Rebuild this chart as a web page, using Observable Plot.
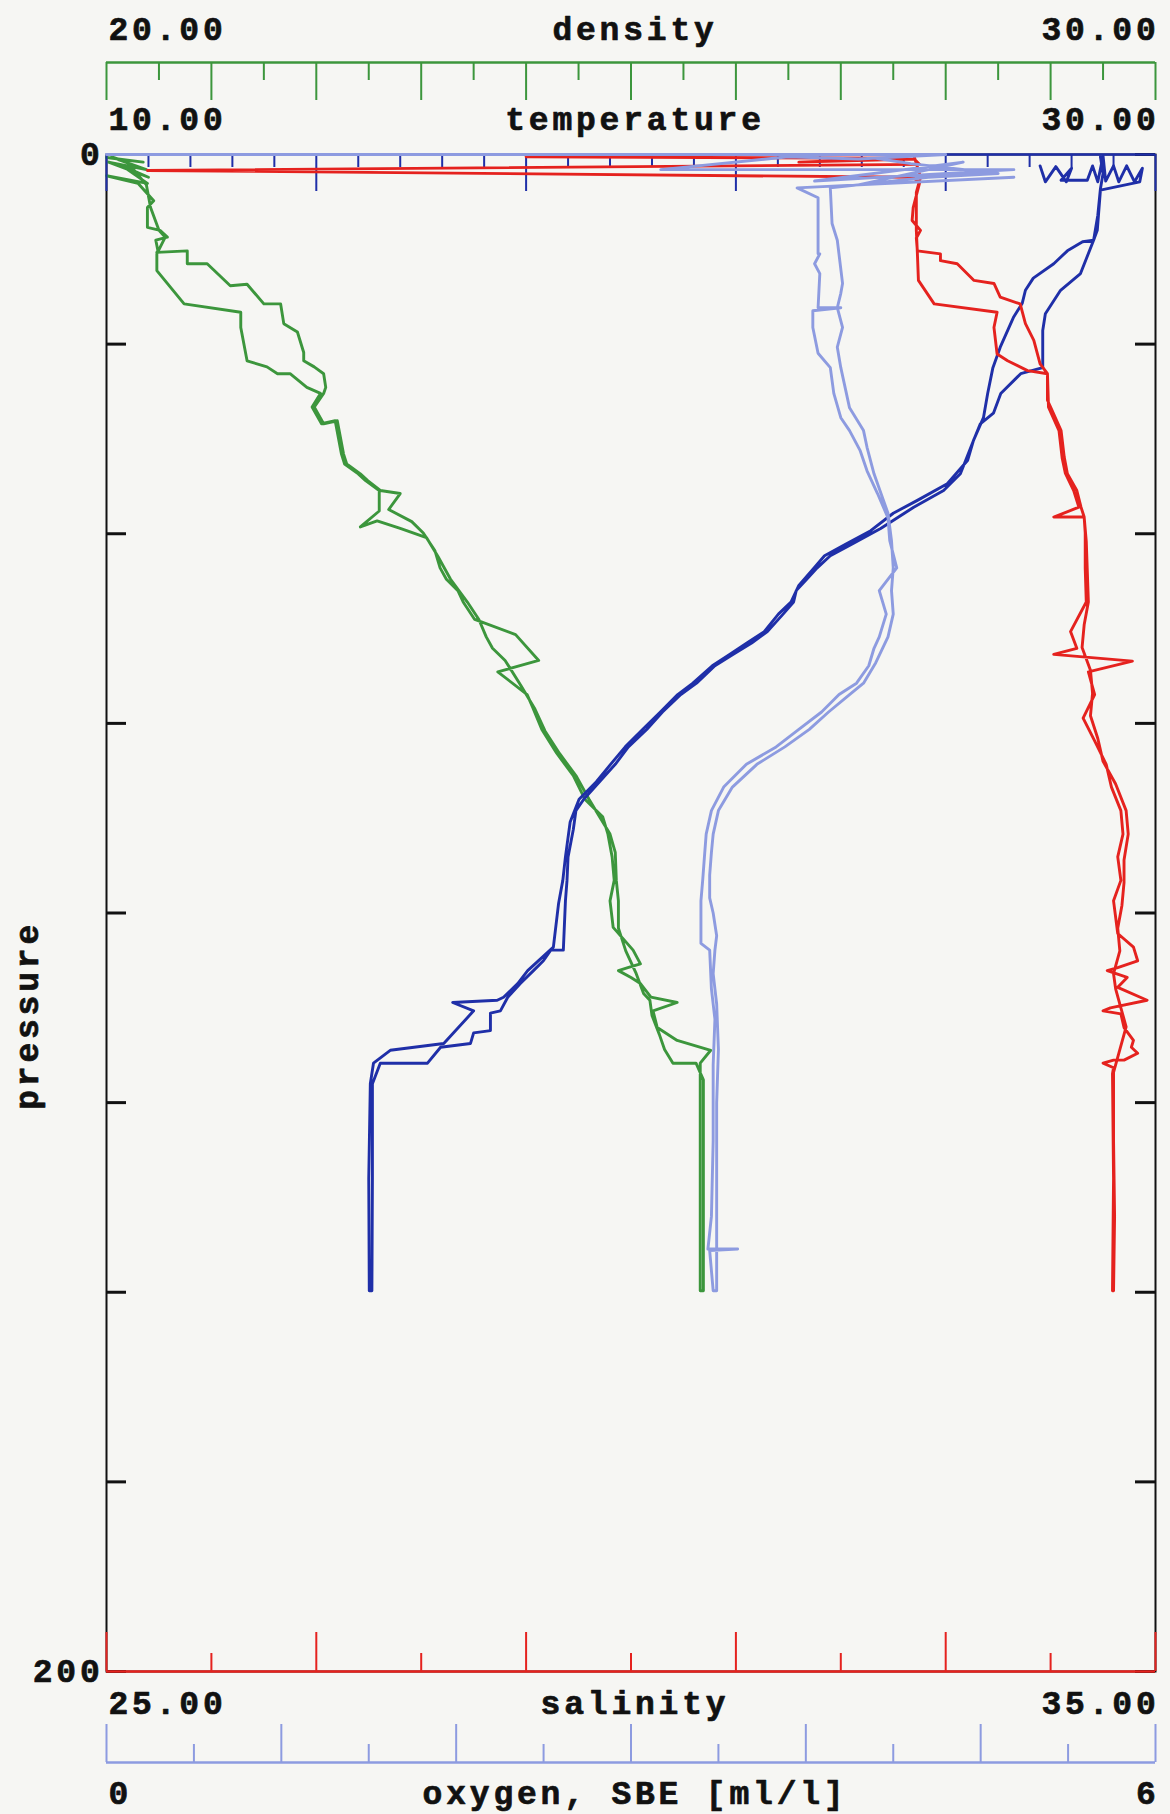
<!DOCTYPE html>
<html><head><meta charset="utf-8">
<script src="https://cdn.jsdelivr.net/npm/d3@7"></script>
<script src="https://cdn.jsdelivr.net/npm/@observablehq/plot@0.6"></script>
<style>
html,body{margin:0;padding:0;background:#f6f6f3;}
#chart{position:relative;width:1170px;height:1814px;}
#chart svg{position:absolute;left:0;top:0;background:transparent;overflow:visible;}
#chart svg text{letter-spacing:3.8px;}
</style></head><body><div id="chart"></div>
<script>
// ---- axis definitions ----
const pressureDomain = [0, 200];
const pressureTicks = [0, 25, 50, 75, 100, 125, 150, 175, 200];
const pressureLabels = [0, 200];
const pressureTitle = "pressure";

const densityDomain = [20, 30];
const densityLabels = ["20.00", "30.00"];
const densityMajor = [20, 21, 22, 23, 24, 25, 26, 27, 28, 29, 30];
const densityMinor = [20.5, 21.5, 22.5, 23.5, 24.5, 25.5, 26.5, 27.5, 28.5, 29.5];

const temperatureDomain = [10, 30];
const temperatureLabels = ["10.00", "30.00"];
const temperatureMajor = [10, 14, 18, 22, 26, 30];
const temperatureMinor = [10.8, 11.6, 12.4, 13.2, 14.8, 15.6, 16.4, 17.2, 18.8, 19.6, 20.4, 21.2, 22.8, 23.6, 24.4, 25.2, 26.8, 27.6, 28.4, 29.2];

const salinityDomain = [25, 35];
const salinityLabels = ["25.00", "35.00"];
const salinityMajor = [25, 27, 29, 31, 33, 35];
const salinityMinor = [26, 28, 30, 32, 34];

const oxygenDomain = [0, 6];
const oxygenLabels = ["0", "6"];
const oxygenMajor = [0, 1, 2, 3, 4, 5, 6];
const oxygenMinor = [0.5, 1.5, 2.5, 3.5, 4.5, 5.5];

// ---- profiles: [pressure, value], downcast then upcast ----
const temperatureProfile = [
 [1.5,27.8],[3.6,27.9],[1.6,28.1],[3.6,28.3],[1.8,28.4],[3.4,28.2],[3.4,28.7],[1.5,28.8],[3.6,28.9],[0.2,29.0],[3.5,29.05],[1.5,29.2],[3.6,29.3],[1.5,29.45],[3.6,29.6],[1.8,29.75],[3.6,29.7],[4.7,28.95],[10.0,28.89],[11.3,28.82],
 [11.5,28.61],[12.7,28.32],[14.4,28.06],[16.3,27.67],[17.9,27.52],[19.6,27.46],[21.5,27.29],[25.4,27.04],[28.1,26.9],[31.5,26.8],[34.7,26.72],[37.7,26.53],[40.3,26.42],[43.4,26.03],[45.6,25.46],[47.3,25.0],[49.6,24.57],
 [51.4,24.09],[52.9,23.69],[54.5,23.49],[56.8,23.2],[59.0,23.05],[60.6,22.81],[62.9,22.54],[64.4,22.21],[65.9,21.88],[67.4,21.55],[69.7,21.18],[71.2,20.89],[73.5,20.56],[75.8,20.22],[78.1,19.89],[80.4,19.61],[82.7,19.34],[85.0,19.01],[88.0,18.84],[92.6,18.75],[95.7,18.7],[98.7,18.62],
 [104.5,18.52],[107.6,18.03],[109.3,17.84],[111.1,17.57],[111.5,17.45],[111.8,16.6],[112.9,17.0],[117.2,16.43],[118.1,15.41],[119.8,15.09],[122.5,15.03],[135,15.0],[149.8,15.01],
 [149.8,15.06],[135,15.07],[122.5,15.07],[119.8,15.22],[119.8,16.12],[117.7,16.37],[117.2,16.94],[115.8,17.0],[115.5,17.32],[113.2,17.32],[112.9,17.51],[111.1,17.65],[109.3,17.89],[107.6,18.14],[106.3,18.33],[104.9,18.47],[104.9,18.71],[98.4,18.75],
 [95.7,18.78],[92.6,18.8],[89.0,18.9],[86.5,18.95],[85.0,19.1],[82.7,19.4],[80.4,19.7],[78.1,19.95],[75.8,20.3],[73.5,20.6],[71.2,20.95],[69.7,21.25],[67.4,21.6],[65.9,21.95],[64.4,22.3],[62.9,22.6],[60.6,22.9],[59.0,23.1],[57.5,23.15],[56.0,23.35],[54.5,23.55],[52.9,23.8],[51.4,24.2],
 [49.3,24.76],[46.5,25.39],[44.3,25.96],[42.1,26.28],[37.7,26.53],[35.5,26.66],[34.1,26.91],[31.5,27.05],[28.9,27.43],[28.1,27.85],[23.2,27.85],[21.0,27.9],[17.9,28.19],[15.7,28.57],[11.3,28.82],[8.0,28.9],[4.5,28.95],[2.5,29.0],[0.3,28.95]
];

const densityProfile = [
 [0.4,20.0],[1.0,20.35],[0.6,20.1],[2.0,20.38],[1.0,20.02],[3.0,20.4],[1.5,20.15],[3.8,20.39],[2.8,20.0],[3.8,20.3],[6.1,20.45],[7.0,20.39],[9.6,20.39],[10.0,20.51],[10.9,20.58],[11.3,20.47],[12.7,20.49],
 [12.9,20.48],[12.7,20.77],[14.4,20.77],[14.4,20.96],[17.3,21.18],[17.1,21.34],[19.7,21.5],[19.7,21.66],[22.3,21.69],[23.4,21.82],[26.1,21.88],[27.2,21.88],[28.0,21.98],[28.9,22.07],[30.7,22.09],
 [31.5,22.07],[33.3,21.98],[35.5,22.07],[35.1,22.2],[39.5,22.26],[40.8,22.29],[42.1,22.42],[43.0,22.49],[44.3,22.61],[44.7,22.8],
 [46.8,22.69],[48.4,22.91],[49.9,23.02],[52.2,23.13],[54.5,23.18],[56.0,23.24],[57.5,23.35],[59.0,23.40],[61.3,23.51],[63.3,23.9],[66.7,24.12],[68.2,23.73],[71.2,24.01],[72.8,24.06],[75.8,24.15],[78.9,24.29],[81.9,24.45],[85.0,24.56],[87.3,24.73],[89.6,24.78],[92.6,24.82],[95.7,24.84],[98.4,24.8],[101.9,24.83],[104.9,25.02],[106.7,25.09],[107.2,24.97],[107.6,24.88],[108.5,25.0],[109.3,25.09],[111.1,25.19],[111.8,25.44],[112.9,25.21],[115.1,25.25],[116.8,25.44],[118.1,25.76],[119.8,25.66],[123.0,25.66],[149.8,25.66],
 [149.8,25.69],[122.0,25.69],[119.8,25.62],[119.8,25.4],[118.0,25.32],[116.0,25.27],[113.5,25.2],[111.5,25.18],[110.6,25.12],[108.0,25.05],[105.0,24.95],[102.0,24.88],[98.4,24.88],[95.7,24.86],[92.0,24.85],[89.6,24.8],[87.3,24.7],[85.0,24.6],[82.0,24.48],[79.0,24.32],[76.0,24.18],[73.0,24.08],[70.0,23.95],[66.7,23.8],[65.1,23.68],[63.6,23.62],[61.3,23.55],[59.0,23.44],[56.0,23.28],[53.0,23.16],[50.5,23.05],[49.3,22.8],[48.3,22.58],[49.1,22.42],[47.0,22.6],[44.3,22.6],[43.0,22.47],[42.1,22.4],[40.8,22.27],[39.5,22.24],[35.1,22.18],[35.5,22.05],[33.3,21.96],[31.5,22.04],
 [30.7,21.91],[28.9,21.75],[28.9,21.63],[28.0,21.53],[27.2,21.34],[22.8,21.28],[20.8,21.28],[19.7,20.74],[15.3,20.48],[13.1,20.48],[10.9,20.56],[10.0,20.5],[7.0,20.42],[4.0,20.38],[1.0,20.2],[0.3,20.05]
];

const salinityProfile = [
 [0.3,29.0],[0.5,32.6],[1.0,31.6],[0.6,32.7],[1.3,32.75],[2.1,25.39],[3.0,32.69],[3.8,32.75],[7.0,32.69],[8.7,32.68],[10.0,32.76],[11.0,32.72],[12.7,32.73],
 [13.1,32.95],[14.0,32.95],[14.4,33.11],[16.6,33.27],[17.0,33.46],[18.8,33.52],[19.7,33.71],[22.3,33.76],[24.5,33.84],[27.6,33.9],[28.9,33.97],
 [32.4,33.97],[33.3,34.0],[36.4,34.1],[39.9,34.13],[42.1,34.16],[44.3,34.25],[46.5,34.29],[47.8,34.32],[49.9,34.33],[54.5,34.33],[59.0,34.34],[62.9,34.19],[65.1,34.25],[65.9,34.03],[66.8,34.78],[68.2,34.36],[71.2,34.42],[74.3,34.31],[77.3,34.42],[80.4,34.53],[83.4,34.58],[86.5,34.67],[89.6,34.69],[92.6,34.64],[95.7,34.67],[98.4,34.6],[102.7,34.64],[104.5,34.79],[106.3,34.83],[107.2,34.64],[107.6,34.54],[108.5,34.73],[109.8,34.64],[111.5,34.92],[112.5,34.57],[112.9,34.5],[113.3,34.67],[115.1,34.7],[116.8,34.79],[117.7,34.77],[118.5,34.83],[119.4,34.7],[119.4,34.6],[119.8,34.5],[120.4,34.6],[121.2,34.59],[135,34.6],[149.8,34.59],
 [149.8,34.6],[140,34.61],[130,34.6],[121,34.6],[118,34.66],[115,34.72],[112,34.66],[110,34.62],[108,34.6],[105,34.66],[102,34.64],[99,34.68],[96,34.7],[93,34.7],[89.6,34.74],[86.5,34.72],[83,34.62],[80,34.5],[77,34.45],[74,34.38],[71,34.4],[68,34.38],[65,34.3],[62,34.32],[59,34.36],[55,34.35],[51,34.34],[47.8,34.32],[47.8,34.03],[46.5,34.27],[44.3,34.22],[42,34.14],[40,34.11],[36.4,34.08],[33.3,33.98],[28.9,33.97],
 [28.5,33.78],[27.2,33.59],[26.3,33.49],[22.8,33.46],[20.8,33.49],[19.7,32.89],[16.6,32.74],[13,32.73],[10,32.72],[5,32.72],[3,32.76],[0.3,32.7]
];

const oxygenProfile = [
 [0,0],[0,4.8],[0.6,4.3],[0.3,3.9],[2.0,3.17],[2.0,5.19],[3.5,4.05],[1.0,4.9],[4.0,4.3],[3.0,5.19],[4.4,3.95],[5.7,4.07],[13.1,4.07],[13.1,4.08],[14.4,4.05],[15.7,4.08],[20.2,4.07],[20.2,4.2],[20.6,4.04],[22.8,4.04],[26.2,4.07],[28.1,4.14],[31.5,4.16],[34.7,4.2],[36.4,4.25],[39.0,4.31],[41.7,4.35],[44.7,4.41],[47.9,4.47],[50.9,4.48],[54.5,4.52],[57.5,4.42],[60.6,4.46],[63.6,4.42],[65.1,4.39],[67.4,4.36],[69.7,4.29],[71.2,4.19],[73.5,4.09],[75.8,3.96],[78.1,3.83],[80.4,3.66],[83.4,3.53],[86.5,3.46],[89.6,3.43],[92.6,3.42],[95.7,3.41],[98.4,3.40],[104.0,3.40],[104.9,3.45],[110.0,3.46],[114.0,3.48],[120.0,3.47],[130.0,3.47],[140.0,3.46],[144.3,3.44],[144.3,3.61],[144.5,3.45],[149.8,3.47],
 [149.8,3.49],[140,3.49],[125,3.49],[118,3.5],[112,3.49],[108,3.47],[104.9,3.48],[103,3.49],[100,3.47],[98,3.45],[95,3.45],[92,3.46],[89.6,3.47],[86.5,3.5],[83.4,3.58],[80.4,3.72],[78.1,3.88],[75.8,4.02],[73.5,4.13],[71.2,4.25],[69.7,4.33],[67.0,4.4],[63.6,4.47],[60.6,4.5],[57.5,4.49],[54.5,4.5],[50.9,4.49],[47.3,4.47],[44.7,4.43],[42.1,4.39],[38.6,4.35],[36.4,4.33],[33.4,4.25],[28.1,4.2],[25.4,4.18],[22.8,4.21],[20.2,4.18],[18.3,4.2],[17.0,4.21],[11.3,4.18],[9.1,4.15],[4.4,4.14],[3.0,4.7],[2.5,5.1],[1.2,4.6],[0.5,4.4]
];

// ---- styles ----
const GREEN = "#3c963c", DBLUE = "#1f2fa8", RED = "#e5221e", LBLUE = "#8d9be0", INK = "#111";
const font = {fontFamily: "Liberation Mono, DejaVu Sans Mono, monospace", fontSize: 33, fontWeight: "bold", fill: INK, stroke: INK, strokeWidth: 0.7};
const W = 1170, H = 1814;
const M = {marginLeft: 106, marginRight: 15, marginTop: 154, marginBottom: 143};

function layer(xDomain, marks) {
  return Plot.plot({
    width: W, height: H, ...M,
    x: {domain: xDomain, axis: null},
    y: {domain: pressureDomain, reverse: true, axis: null},
    style: {background: "transparent", overflow: "visible"},
    marks
  });
}
const line = (data, stroke) => Plot.line(data, {x: d => d[1], y: d => d[0], stroke, strokeWidth: 2.9, strokeLinejoin: "round"});
const endLabels = (domain, labels, frameAnchor, dy) => [
  Plot.text([domain[0]], {x: d => d, text: () => labels[0], frameAnchor, textAnchor: "start", lineAnchor: "bottom", dy, dx: 2, ...font}),
  Plot.text([domain[1]], {x: d => d, text: () => labels[1], frameAnchor, textAnchor: "end", lineAnchor: "bottom", dy, dx: 4, ...font})
];
const title = (t, frameAnchor, dy) => Plot.text([t], {frameAnchor, lineAnchor: "bottom", dy, dx: 4, ...font});

const chart = document.getElementById("chart");

// density layer + pressure frame
chart.append(layer(densityDomain, [
  Plot.frame({stroke: INK, strokeWidth: 2}),
  Plot.ruleY(pressureTicks, {y: d => d, insetRight: 1029, stroke: INK, strokeWidth: 3}),
  Plot.ruleY(pressureTicks, {y: d => d, insetLeft: 1029, stroke: INK, strokeWidth: 3}),
  Plot.text(pressureLabels, {y: d => d, text: d => String(d), frameAnchor: "left", textAnchor: "end", lineAnchor: "middle", dx: -3, ...font}),
  Plot.text([pressureTitle], {y: () => 113.5, frameAnchor: "left", rotate: -90, dx: -79, lineAnchor: "middle", textAnchor: "middle", ...font}),
  Plot.ruleY([0], {dy: -92, stroke: GREEN, strokeWidth: 2.5}),
  Plot.ruleX(densityMajor, {x: d => d, insetTop: -92, insetBottom: 1571, stroke: GREEN, strokeWidth: 2}),
  Plot.ruleX(densityMinor, {x: d => d, insetTop: -92, insetBottom: 1591, stroke: GREEN, strokeWidth: 2}),
  ...endLabels(densityDomain, densityLabels, "top", -115),
  title("density", "top", -115),
  line(densityProfile, GREEN)
]));

// temperature layer
chart.append(layer(temperatureDomain, [
  Plot.ruleY([0], {stroke: DBLUE, strokeWidth: 2.5}),
  Plot.ruleX(temperatureMajor, {x: d => d, insetBottom: 1480, stroke: DBLUE, strokeWidth: 2}),
  Plot.ruleX(temperatureMinor, {x: d => d, insetBottom: 1504, stroke: DBLUE, strokeWidth: 2}),
  ...endLabels(temperatureDomain, temperatureLabels, "top", -25),
  title("temperature", "top", -25),
  line(temperatureProfile, DBLUE)
]));

// salinity layer
chart.append(layer(salinityDomain, [
  Plot.ruleY([200], {stroke: RED, strokeWidth: 2.5}),
  Plot.ruleX(salinityMajor, {x: d => d, insetTop: 1478, stroke: RED, strokeWidth: 2}),
  Plot.ruleX(salinityMinor, {x: d => d, insetTop: 1499, stroke: RED, strokeWidth: 2}),
  ...endLabels(salinityDomain, salinityLabels, "bottom", 42),
  title("salinity", "bottom", 42),
  line(salinityProfile, RED)
]));

// oxygen layer
chart.append(layer(oxygenDomain, [
  Plot.ruleY([200], {dy: 91, stroke: LBLUE, strokeWidth: 2.5}),
  Plot.ruleX(oxygenMajor, {x: d => d, insetTop: 1570, insetBottom: -91, stroke: LBLUE, strokeWidth: 2}),
  Plot.ruleX(oxygenMinor, {x: d => d, insetTop: 1590, insetBottom: -91, stroke: LBLUE, strokeWidth: 2}),
  ...endLabels(oxygenDomain, oxygenLabels, "bottom", 132),
  title("oxygen, SBE [ml/l]", "bottom", 132),
  line(oxygenProfile, LBLUE)
]));
</script></body></html>
